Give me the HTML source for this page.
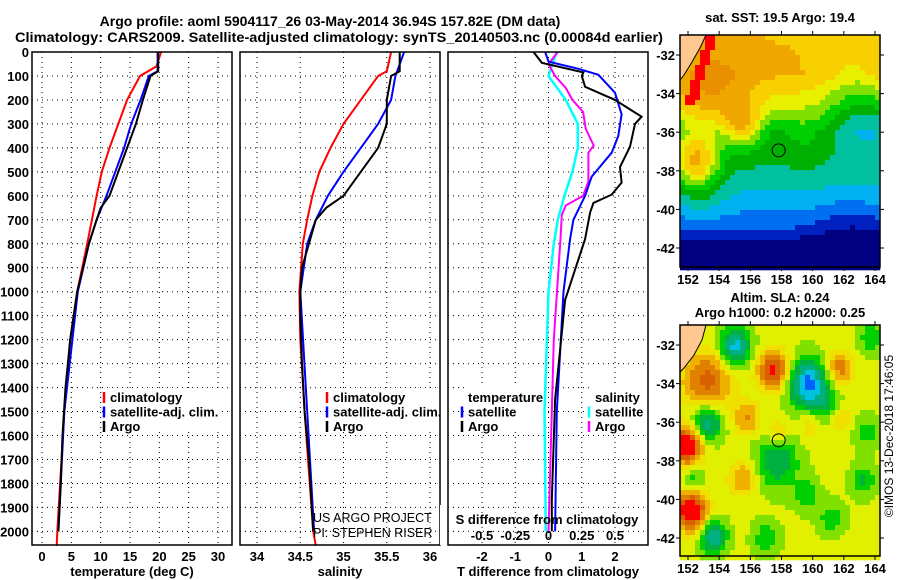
<!DOCTYPE html>
<html><head><meta charset="utf-8"><style>
body{margin:0;background:#fff;}
svg{display:block;font-family:"Liberation Sans",sans-serif;}
.b{font-weight:bold;font-size:13px;}
.t{font-weight:bold;font-size:14px;}
</style></head><body>
<svg id="s" width="900" height="580" viewBox="0 0 900 580" xmlns="http://www.w3.org/2000/svg">
<text class="t" x="330" y="26" text-anchor="middle">Argo profile: aoml 5904117_26 03-May-2014 36.94S 157.82E (DM data)</text>
<text class="t" x="339" y="42" text-anchor="middle" textLength="648" lengthAdjust="spacingAndGlyphs">Climatology: CARS2009. Satellite-adjusted climatology: synTS_20140503.nc (0.00084d earlier)</text>
<g id="plots"></g>
<g id="maps"></g>
<text x="893" y="436" font-size="12" text-anchor="middle" transform="rotate(-90 893 436)">©IMOS 13-Dec-2018 17:46:05</text>
</svg>
<script>
// ---- data ----
const depthTicks=[0,100,200,300,400,500,600,700,800,900,1000,1100,1200,1300,1400,1500,1600,1700,1800,1900,2000];
const tempTicks=[0,5,10,15,20,25,30];
const salTicks=[34,34.5,35,35.5,36];
const tdTicks=[-2,-1,0,1,2];
const sdTicks=[-0.5,-0.25,0,0.25,0.5];
const sdTickLabels=["-0.5","-0.25","0","0.25","0.5"];
const tempArgoD=[0,80,100,200,300,400,500,600,650,700,800,900,1000,1200,1400,1600,1800,2000];
const tempArgo=[19.8,19.8,18.5,17.2,16.0,14.5,13.0,11.5,10.0,9.3,8.0,7.0,6.0,4.8,4.0,3.5,3.2,2.8];
const tempClimD=[0,60,100,200,300,400,500,600,700,800,1000,1200,1500,2000,2060];
const tempClim=[20.3,19.5,16.7,14.5,13.0,11.5,10.2,9.3,8.5,7.7,6.0,4.8,3.8,2.6,2.5];
const tempSatD=[0,80,100,200,300,400,500,600,700,800,1000,1500,2000];
const tempSat=[19.7,19.7,18.2,16.8,15.2,14.0,12.5,11.0,9.3,8.0,6.1,3.8,2.8];
const salArgoD=[0,80,100,200,300,400,500,600,650,700,800,900,1000,1100,1300,1500,1700,2000];
const salArgo=[35.65,35.65,35.55,35.5,35.5,35.4,35.2,35.0,34.8,34.68,34.6,34.52,34.5,34.5,34.52,34.55,34.6,34.65];
const salClimD=[0,80,100,200,300,400,500,600,700,800,1000,1200,1500,2000,2060];
const salClim=[35.55,35.5,35.4,35.2,35.0,34.85,34.72,34.64,34.58,34.53,34.49,34.5,34.55,34.65,34.68];
const salSatD=[0,100,200,300,400,500,600,700,800,1000,2000];
const salSat=[35.7,35.6,35.55,35.4,35.2,35.0,34.82,34.68,34.58,34.5,34.66];
const tdArgoD=[0,45,85,100,145,200,270,300,395,480,545,595,630,670,780,1035,1450,1870,2000];
const tdArgo=[-0.45,-0.2,1.05,1.0,1.1,2.0,2.8,2.6,2.45,2.15,2.2,1.9,1.35,1.25,1.1,0.5,0.2,0.1,0.1];
const tdSatD=[0,40,70,95,170,260,350,420,520,600,700,780,1000,1500,2000];
const tdSat=[-0.1,0,0.9,1.5,2.0,2.2,2.1,1.9,1.3,1.1,0.75,0.65,0.45,0.25,0.2];
const sdArgoD=[0,50,100,150,200,250,320,390,420,540,600,640,680,780,1200,2000];
const sdArgo=[0.07,0.0,0.05,0.13,0.18,0.26,0.28,0.34,0.3,0.3,0.26,0.13,0.1,0.09,0.04,0.0];
const sdSatD=[0,100,200,300,400,500,600,700,800,1000,1500,2000];
const sdSat=[0.06,0.0,0.13,0.22,0.22,0.18,0.12,0.07,0.04,0.0,-0.03,-0.02];

const NS="http://www.w3.org/2000/svg";
function mk(tag,attrs,parent,txt){const e=document.createElementNS(NS,tag);for(const k in attrs)e.setAttribute(k,attrs[k]);if(txt!==undefined)e.textContent=txt;parent.appendChild(e);return e;}
const plots=document.getElementById('plots');
const Y0=52,YB=545;
const yD=d=>Y0+d*0.2397;
function xs(x0,x1,v0,v1){return v=>x0+(v-v0)*(x1-x0)/(v1-v0);}
const xT=xs(42,218,0,30), xS=xs(257,430,34,36), xTD=xs(482,615,-2,2), xSD=xs(482,615,-0.5,0.5);

function panel(name,L,R,xf,ticks,labels,xlabel){
  const g=mk('g',{},plots);
  
  
  depthTicks.forEach(d=>{mk('line',{x1:L,x2:R,y1:yD(d),y2:yD(d),stroke:'#000','stroke-dasharray':'1,4'},g);});
  ticks.forEach((t,i)=>{mk('line',{x1:xf(t),x2:xf(t),y1:Y0,y2:YB,stroke:'#000','stroke-dasharray':'1,4'},g);
    const tx=mk('text',{x:xf(t),y:YB+16,'text-anchor':'middle',class:'b'},g,labels?labels[i]:String(t));
    
    });
  const xl=mk('text',{x:(L+R)/2,y:YB+31,'text-anchor':'middle',class:'b'},g,xlabel);
  
  
  return g;
}
function line(g,xf,D,V,col,w,name){
  const p=D.map((d,i)=>xf(V[i]).toFixed(1)+','+yD(d).toFixed(1)).join(' ');
  const e=mk('polyline',{points:p,fill:'none',stroke:col,'stroke-width':w},g);
  
  
}
function frame(g,L,R,name){const r=mk('rect',{x:L,y:Y0,width:R-L,height:YB-Y0,fill:'none',stroke:'#000','stroke-width':1.5},g);
  }

depthTicks.forEach(d=>{const t=mk('text',{x:29,y:yD(d)+5,'text-anchor':'end',class:'b'},plots,String(d));
  
  });

function legend(g,x,y,items){
  items.forEach((it,i)=>{const yy=y+i*14.5;
    if(it.c){mk('line',{x1:x-6,x2:x-6,y1:yy-10,y2:yy+1,stroke:it.c,'stroke-width':2.5},g);}
    const t=mk('text',{x:x,y:yy,class:'b'},g,it.t);
    
    });
}

let g=panel('temperature',32,232,xT,tempTicks,null,'temperature (deg C)');
mk('rect',{x:103,y:388,width:118,height:43,fill:'#fff'},g);
line(g,xT,tempClimD,tempClim,'#f00',2,'temp-climatology-line');
line(g,xT,tempSatD,tempSat,'#00f',2,'temp-satellite-line');
line(g,xT,tempArgoD,tempArgo,'#000',2,'temp-argo-line');
legend(g,110,402,[{t:'climatology',c:'#f00'},{t:'satellite-adj. clim.',c:'#00f'},{t:'Argo',c:'#000'}]);
frame(g,32,232,'temperature');

g=panel('salinity',240,440,xS,salTicks,null,'salinity');
mk('rect',{x:326,y:388,width:112,height:43,fill:'#fff'},g);
line(g,xS,salClimD,salClim,'#f00',2,'sal-climatology-line');
line(g,xS,salSatD,salSat,'#00f',2,'sal-satellite-line');
line(g,xS,salArgoD,salArgo,'#000',2,'sal-argo-line');
legend(g,333,402,[{t:'climatology',c:'#f00'},{t:'satellite-adj. clim.',c:'#00f'},{t:'Argo',c:'#000'}]);
let c1=mk('text',{x:313,y:522,'font-size':'12.5'},g,'US ARGO PROJECT');
let c2=mk('text',{x:313,y:537,'font-size':'12.5'},g,'PI: STEPHEN RISER');
mk('rect',{x:440,y:505,width:8,height:40,fill:'#fff'},plots);
frame(g,240,440,'salinity');

g=panel('t-difference',448,648,xTD,tdTicks,null,'T difference from climatology');
mk('rect',{x:466,y:386,width:82,height:45,fill:'#fff'},g);
mk('rect',{x:592,y:386,width:54,height:45,fill:'#fff'},g);
line(g,xSD,sdSatD,sdSat,'#0ff',2.5,'sdiff-satellite-line');
line(g,xSD,sdArgoD,sdArgo,'#f0f',2,'sdiff-argo-line');
line(g,xTD,tdSatD,tdSat,'#00f',2,'tdiff-satellite-line');
line(g,xTD,tdArgoD,tdArgo,'#000',2,'tdiff-argo-line');
legend(g,468,402,[{t:'temperature'},{t:'satellite',c:'#00f'},{t:'Argo',c:'#000'}]);
legend(g,595,402,[{t:'salinity'},{t:'satellite',c:'#0ff'},{t:'Argo',c:'#f0f'}]);
let st=mk('text',{x:547,y:524,'text-anchor':'middle',class:'b'},g,'S difference from climatology');

sdTicks.forEach((t,i)=>{const e=mk('text',{x:xSD(t),y:540,'text-anchor':'middle',class:'b'},g,sdTickLabels[i]);
  });
frame(g,448,648,'t-difference');

// ---- maps ----
const maps=document.getElementById('maps');
function lerpC(stops,v){v=Math.max(0,Math.min(1,v));for(let i=1;i<stops.length;i++){if(v<=stops[i][0]){return stops[i-1][1];}}return stops[stops.length-1][1];}
const sstC=[[0,'#000080'],[0.1,'#000080'],[0.17,'#0020c0'],[0.24,'#0070f0'],[0.3,'#00b0f0'],[0.37,'#00c0a0'],[0.44,'#00b000'],[0.5,'#00d000'],[0.56,'#80e000'],[0.62,'#e8f000'],[0.68,'#f8d000'],[0.75,'#f0a800'],[0.83,'#e89000'],[0.9,'#d86800'],[0.97,'#ff0000'],[2,'#ff0000']];
const slaC=[[0,'#0060ff'],[0.12,'#0060ff'],[0.2,'#00c0e0'],[0.28,'#00b080'],[0.36,'#00b040'],[0.44,'#00d000'],[0.5,'#80e000'],[0.57,'#e0f000'],[0.64,'#f0e000'],[0.7,'#f0b000'],[0.78,'#e08000'],[0.86,'#d86000'],[0.93,'#ff0000'],[2,'#ff0000']];
const gauss=(lon,lat,b)=>b[2]*Math.exp(-((lon-b[0])**2+(lat-b[1])**2)/(2*b[3]*b[3]));
function drawMap(name,L,T,W,H,latTop,field,cmap,land,title){
  const g=mk('g',{},maps);
  
  
  const lonX=lon=>688+(lon-152)*187/12, latY=lat=>latTop+(-32-lat)*19.3;
  const cs=5;
  for(let x=L;x<L+W;x+=cs)for(let y=T;y<T+H;y+=cs){
    const lon=152+(x+cs/2-688)*12/187, lat=-32-(y+cs/2-latTop)/19.3;
    mk('rect',{x:x,y:y,width:cs+0.3,height:cs+0.3,fill:lerpC(cmap,field(lon,lat))},g);}
  mk('polygon',{points:land,fill:'#ffc890',stroke:'#000','stroke-width':1},g);
  mk('circle',{cx:lonX(157.82),cy:latY(-36.94),r:6.5,fill:'none',stroke:'#000','stroke-width':1},g);
  mk('rect',{x:L,y:T,width:W,height:H,fill:'none',stroke:'#000','stroke-width':1.5},g);
  [152,154,156,158,160,162,164].forEach(lon=>{const x=lonX(lon);
    mk('line',{x1:x,x2:x,y1:T,y2:T-4,stroke:'#000'},g);mk('line',{x1:x,x2:x,y1:T+H,y2:T+H+4,stroke:'#000'},g);
    const t=mk('text',{x:x,y:T+H+17,'text-anchor':'middle',class:'b'},g,String(lon));
    });
  [-32,-34,-36,-38,-40,-42].forEach(lat=>{const y=latY(lat);
    mk('line',{x1:L-4,x2:L,y1:y,y2:y,stroke:'#000'},g);mk('line',{x1:L+W,x2:L+W+4,y1:y,y2:y,stroke:'#000'},g);
    const t=mk('text',{x:L-5,y:y+5,'text-anchor':'end',class:'b'},g,String(lat));
    });
  title.forEach(s=>{const t=mk('text',{x:L+W/2,y:s[1],'text-anchor':'middle',class:'b'},g,s[0]);
    });
}
const sstBlobs=[[153.5,-34.2,0.15,1.6],[152.5,-37.5,0.3,1.0],[155.5,-35.6,0.22,0.8],[162.5,-33.3,-0.08,1.5],[163.5,-35.5,-0.12,1.3],[162.5,-41.5,-0.08,1.5],[153,-39.5,0.06,1.0],[159.5,-36.2,0.04,1.0]];
const sstProf=[[-30,0.74],[-33,0.76],[-34.5,0.64],[-36,0.48],[-38,0.43],[-39.5,0.34],[-41,0.24],[-42,0.1],[-44,0.05]];
function sstBase(lat){
  if(lat>=sstProf[0][0])return sstProf[0][1];
  for(let i=1;i<sstProf.length;i++){if(lat>=sstProf[i][0]){const a=sstProf[i-1],b=sstProf[i];return a[1]+(lat-a[0])*(b[1]-a[1])/(b[0]-a[0]);}}
  return 0.05;}
function sstF(lon,lat){let v=sstBase(lat);sstBlobs.forEach(b=>v+=gauss(lon,lat,b));
  const cl=153.3+(lat+31)*0.4;
  if(lat>-34.6 && lon>=cl-0.1 && lon<cl+0.6) v=Math.max(v,0.98);
  return v;}
drawMap('sst-map',680,35,200,232,55,sstF,sstC,'680,35,706,35,700,48,692,62,684,75,680,80',[['sat. SST: 19.5 Argo: 19.4',22]]);
const slaBlobs=[[155,-32.1,-0.35,0.7],[153.2,-33.9,0.3,1.1],[157.5,-33.3,0.38,0.7],[159.7,-34,-0.42,0.9],[161.7,-33.2,0.25,0.6],[153.2,-36,-0.32,0.7],[155.8,-35.8,0.2,0.6],[151.9,-37.2,0.48,0.7],[157.7,-38,-0.22,1.0],[155.5,-38.9,0.2,0.6],[152.2,-40.6,0.5,0.7],[153.6,-41.9,-0.32,0.6],[159.6,-39.8,-0.14,0.6],[161.2,-41,-0.14,0.6],[163.3,-39,-0.16,0.6],[161,-35.2,-0.12,0.7],[163.8,-31.6,-0.15,0.6],[157,-42,-0.15,0.6],[152.3,-39,-0.15,0.5],[163.5,-36.5,-0.12,0.6],[157.8,-36.5,0.15,0.5],[159.8,-36.2,0.12,0.5],[161.8,-35.8,0.15,0.5]];
function slaF(lon,lat){let v=0.59;slaBlobs.forEach(b=>v+=gauss(lon,lat,b));return v;}
drawMap('sla-map',680,325,200,231,345,slaF,slaC,'680,325,706,325,702,340,694,355,684,368,680,372',[['Altim. SLA: 0.24',302],['Argo h1000: 0.2 h2000: 0.25',317]]);
</script>
</body></html>
